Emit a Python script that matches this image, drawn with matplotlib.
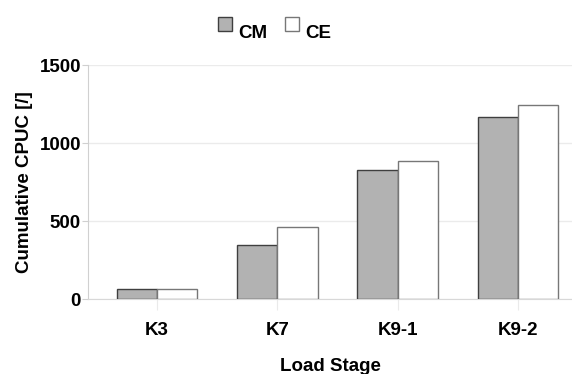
import matplotlib
matplotlib.use("Agg")
import matplotlib.pyplot as plt
from matplotlib.patches import Rectangle
import numpy as np

categories = ["K3", "K7", "K9-1", "K9-2"]
cm_values = [68, 346, 827, 1167]
ce_values = [68, 463, 885, 1247]
series_names = ["CM", "CE"]
y_ticks = [0, 500, 1000, 1500]

plt.rcParams["font.family"] = ["Liberation Sans", "DejaVu Sans"]
plt.rcParams["font.weight"] = "bold"

W, H = 572, 374
fig = plt.figure(figsize=(W / 100, H / 100), dpi=100)
ax = fig.add_axes([88 / W, 1 - 299.3 / H, 1 - 88 / W, (299.3 - 65.3) / H])

fs = 13.5
x = np.arange(len(categories))
w = 0.335
fills = ["#b2b2b2", "white"]
edges = ["#3f3f3f", "#777777"]
ax.bar(x - w / 2, cm_values, width=w, color=fills[0], edgecolor=edges[0], linewidth=1.0, zorder=3)
ax.bar(x + w / 2, ce_values, width=w, color=fills[1], edgecolor=edges[1], linewidth=1.0, zorder=3)

ax.set_xlim(-0.573, 3.449)
ax.set_ylim(0, 1500)
ax.set_yticks(y_ticks)
ax.set_xticks(x)
ax.set_xticklabels(categories)

ax.grid(axis="y", color="#ebebeb", linewidth=1.0, zorder=0)
for s in ["top", "right"]:
    ax.spines[s].set_visible(False)
ax.spines["left"].set_color("#d0d0d0")
ax.spines["bottom"].set_color("#d8d8d8")
ax.tick_params(axis="y", length=4, color="#d0d0d0", labelsize=fs, pad=1)
ax.tick_params(axis="x", length=8, color="#eaeaea", labelsize=fs, pad=8)
for lab in ax.get_xticklabels() + ax.get_yticklabels():
    lab.set_fontweight("bold")

ax.set_ylabel("Cumulative CPUC [/]", fontsize=fs, fontweight="bold", labelpad=5)
ax.set_xlabel("Load Stage", fontsize=fs, fontweight="bold", labelpad=14)

# legend drawn in figure pixel coordinates
leg_x = [217.5, 284.5]
for name, fc, ec, lx in zip(series_names, fills, edges, leg_x):
    fig.patches.append(Rectangle((lx / W, 1 - 31 / H), 14 / W, 14 / H, transform=fig.transFigure,
                                 facecolor=fc, edgecolor=ec, linewidth=1.0))
    fig.text((lx + 20.5) / W, 1 - 37.7 / H, name, fontsize=fs, fontweight="bold",
             ha="left", va="baseline")

fig.savefig("out.png", dpi=100)
